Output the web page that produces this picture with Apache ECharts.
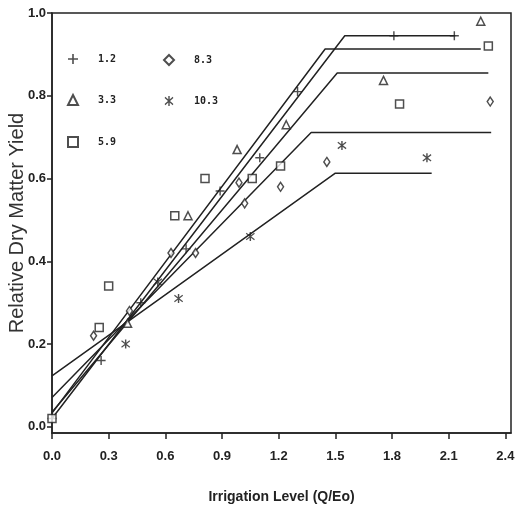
<!DOCTYPE html>
<html>
<head>
<meta charset="utf-8">
<script src="https://cdn.jsdelivr.net/npm/echarts@6/dist/echarts.min.js"></script>
<style>
  html, body { margin: 0; padding: 0; background: #fff; }
  #chart { width: 517px; height: 525px; }
</style>
</head>
<body>
<div id="chart"></div>
<script>
// tick values
var xTicks = [0, 0.3, 0.6, 0.9, 1.2, 1.5, 1.8, 2.1, 2.4];
var yTicks = [0, 0.2, 0.4, 0.6, 0.8, 1.0];

// salinity levels (legend)
var levels = ['1.2', '3.3', '5.9', '8.3', '10.3'];

// observed points [irrigation, relative yield]
var pts12 = [[0, 0.02], [0.26, 0.16], [0.47, 0.30], [0.71, 0.43], [0.89, 0.57], [1.10, 0.65], [1.30, 0.81], [1.81, 0.945], [2.13, 0.945]];
var pts33 = [[0.40, 0.25], [0.72, 0.51], [0.98, 0.67], [1.24, 0.73], [1.755, 0.837], [2.27, 0.98]];
var pts59 = [[0, 0.02], [0.25, 0.24], [0.30, 0.34], [0.65, 0.51], [0.81, 0.60], [1.06, 0.60], [1.21, 0.63], [1.84, 0.78], [2.31, 0.92]];
var pts83 = [[0.22, 0.22], [0.41, 0.28], [0.63, 0.42], [0.76, 0.42], [0.99, 0.59], [1.02, 0.54], [1.21, 0.58], [1.455, 0.64], [2.32, 0.786]];
var pts103 = [[0.39, 0.20], [0.56, 0.35], [0.67, 0.31], [1.05, 0.46], [1.535, 0.68], [1.985, 0.65]];

// fitted linear-plateau lines: start, break point, end
var fit12 = [[0, 0.02], [1.55, 0.945], [2.135, 0.945]];
var fit33 = [[0, 0.035], [1.51, 0.855], [2.31, 0.855]];
var fit59 = [[0, 0.033], [1.446, 0.913], [2.27, 0.913]];
var fit83 = [[0, 0.071], [1.372, 0.711], [2.325, 0.711]];
var fit103 = [[0, 0.123], [1.50, 0.613], [2.01, 0.613]];

var plusPath = 'path://M4.2,0H5.8V4.2H10V5.8H5.8V10H4.2V5.8H0V4.2H4.2Z';
var starPath = 'path://M4.3,0H5.7V10H4.3Z M0.6,2.0L1.3,0.8L9.4,8.0L8.7,9.2Z M0.6,8.0L8.7,0.8L9.4,2.0L1.3,9.2Z';

var ink = '#222';

function pointSeries(name, data, symbol, size, hollow) {
    return {
        name: name,
        type: 'scatter',
        data: data,
        symbol: symbol,
        symbolSize: size,
        itemStyle: hollow ? {color: '#fff', borderColor: ink, borderWidth: 1.5} : {color: ink, borderWidth: 0},
        z: 3
    };
}

function fitSeries(data) {
    return {
        type: 'line',
        data: data,
        showSymbol: false,
        symbol: 'none',
        silent: true,
        lineStyle: {color: ink, width: 1.5},
        z: 2
    };
}

var legendText = {fontFamily: 'DejaVu Sans Mono', fontWeight: 'bold', fontSize: 10, color: ink, padding: [0, 0, 0, 15]};

var chart = echarts.init(document.getElementById('chart'));
chart.setOption({
    animation: false,
    backgroundColor: '#fff',
    textStyle: {fontFamily: 'Liberation Sans, Arial, sans-serif', color: ink},
    grid: {
        left: 52,
        right: 6,
        top: 13,
        bottom: 92,
        outerBoundsMode: 'none',
        containLabel: false,
        show: true,
        borderColor: ink,
        borderWidth: 1.5
    },
    legend: [{
        data: [
            {name: levels[0], icon: plusPath},
            {name: levels[1], icon: 'triangle'},
            {name: levels[2], icon: 'rect'}
        ],
        orient: 'vertical',
        left: 62,
        top: 49,
        itemWidth: 10,
        itemHeight: 10,
        itemGap: 30,
        textStyle: legendText
    }, {
        data: [
            {name: levels[3], icon: 'diamond'},
            {name: levels[4], icon: starPath}
        ],
        orient: 'vertical',
        left: 158,
        top: 49,
        itemWidth: 10,
        itemHeight: 10,
        itemGap: 30,
        textStyle: legendText
    }],
    xAxis: {
        type: 'value',
        min: 0,
        max: 2.43,
        name: 'Irrigation Level (Q/Eo)',
        nameLocation: 'middle',
        nameGap: 57,
        nameMoveOverlap: false,
        nameTextStyle: {fontSize: 14, fontWeight: 'bold', color: ink},
        axisLine: {show: true, onZero: false, lineStyle: {color: ink, width: 1.5}},
        axisTick: {show: true, length: 6, customValues: xTicks, lineStyle: {color: ink, width: 1.5}},
        axisLabel: {
            customValues: xTicks,
            margin: 17,
            fontSize: 13,
            fontWeight: 'bold',
            color: ink,
            formatter: function (v) { return v.toFixed(1); }
        },
        splitLine: {show: false}
    },
    yAxis: {
        type: 'value',
        min: -0.015,
        max: 1.0,
        name: 'Relative Dry Matter Yield',
        nameLocation: 'middle',
        nameGap: 25,
        nameMoveOverlap: false,
        nameTextStyle: {fontSize: 20, color: '#333'},
        axisLine: {show: true, onZero: false, lineStyle: {color: ink, width: 1.5}},
        axisTick: {show: true, length: 5, customValues: yTicks, lineStyle: {color: ink, width: 1.5}},
        axisLabel: {
            customValues: yTicks,
            margin: 6,
            fontSize: 13,
            fontWeight: 'bold',
            color: ink,
            formatter: function (v) { return v.toFixed(1); }
        },
        splitLine: {show: false}
    },
    series: [
        fitSeries(fit12),
        fitSeries(fit33),
        fitSeries(fit59),
        fitSeries(fit83),
        fitSeries(fit103),
        pointSeries(levels[0], pts12, plusPath, 9, false),
        pointSeries(levels[1], pts33, 'triangle', 8, true),
        pointSeries(levels[2], pts59, 'rect', 8, true),
        pointSeries(levels[3], pts83, 'diamond', [6, 9], true),
        pointSeries(levels[4], pts103, starPath, 9, false)
    ]
});
</script>
</body>
</html>
